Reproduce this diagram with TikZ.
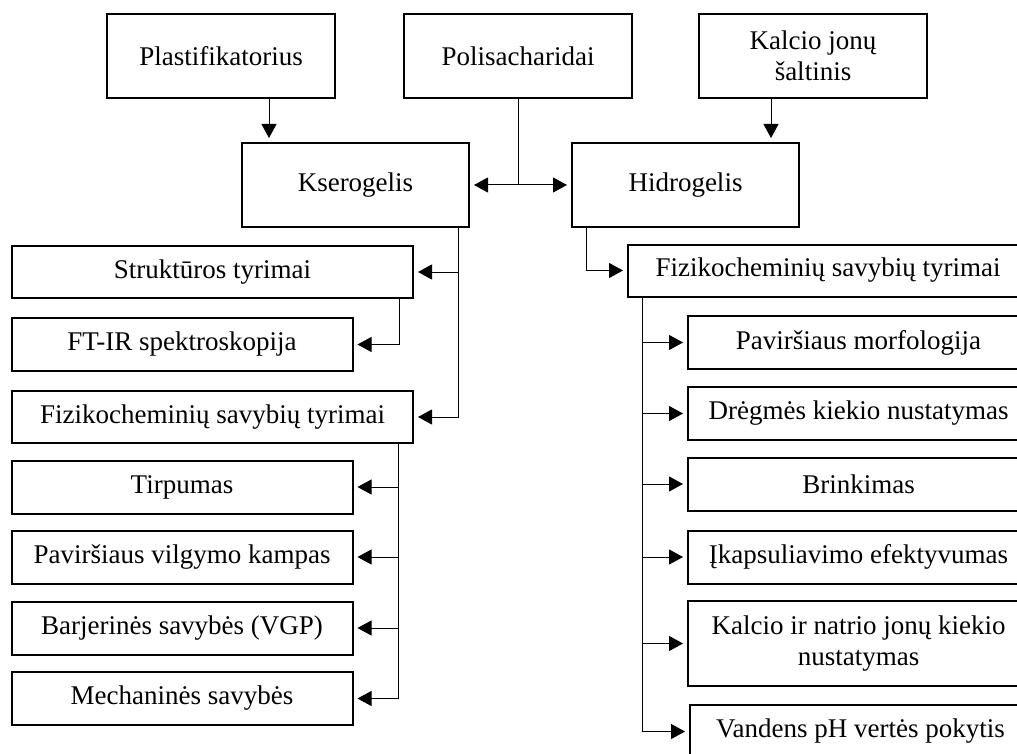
\documentclass[tikz,border=0pt]{standalone}
\usepackage{fontspec}
\setmainfont{Liberation Serif}
\usetikzlibrary{arrows.meta}
\begin{document}
\begin{tikzpicture}[x=1pt,y=-1pt,
  box/.style={draw, line width=2pt, inner sep=0pt, align=center, font=\fontsize{27}{31.5}\selectfont},
  wbox/.style={box, minimum width=228pt, minimum height=84pt},
  lbox/.style={box, minimum width=401pt, minimum height=52pt},
  sbox/.style={box, minimum width=341pt, minimum height=53pt},
  ln/.style={line width=1pt},
  arr/.style={line width=1pt, -{Triangle[length=14pt,width=15pt]}, shorten >=4pt}]
\useasboundingbox (0,0) rectangle (1017,754);
\clip (0,0) rectangle (1017,754);
% top row
\node[wbox] (plast) at (221,56) {Plastifikatorius};
\node[wbox] (polis) at (518,56) {Polisacharidai};
\node[wbox] (kalc) at (813,56) {Kalcio jonų\\šaltinis};
% second row
\node[box, minimum width=227pt, minimum height=84pt] (kser) at (355.5,185) {Kserogelis};
\node[box, minimum width=227pt, minimum height=84pt] (hidr) at (685.5,185) {Hidrogelis};
% left column
\node[lbox] (strukt) at (212.5,272) {Struktūros tyrimai};
\node[sbox] (ftir) at (182,344.5) {FT-IR spektroskopija};
\node[lbox] (fizL) at (212.5,417) {Fizikocheminių savybių tyrimai};
\node[sbox] (tirp) at (182,487) {Tirpumas};
\node[sbox] (pavv) at (182,557) {Paviršiaus vilgymo kampas};
\node[sbox] (barj) at (182,628) {Barjerinės savybės (VGP)};
\node[sbox] (mech) at (182,698.5) {Mechaninės savybės};
% right column
\node[lbox, minimum width=400pt] (fizR) at (828,270.5) {Fizikocheminių savybių tyrimai};
\node[sbox] (pavm) at (858.5,342.5) {Paviršiaus morfologija};
\node[sbox] (dreg) at (858.5,413.5) {Drėgmės kiekio nustatymas};
\node[sbox] (brink) at (858.5,484) {Brinkimas};
\node[sbox] (ikap) at (858.5,557) {Įkapsuliavimo efektyvumas};
\node[sbox, minimum height=85pt] (kaln) at (858.5,643.5) {Kalcio ir natrio jonų kiekio\\nustatymas};
\node[sbox] (vand) at (860.5,731.5) {Vandens pH vertės pokytis};
% top connectors
\draw[arr] ([xshift=48pt]plast.south) -- ([xshift=48pt]plast.south |- kser.north);
\draw[arr] ([xshift=-42pt]kalc.south) -- ([xshift=-42pt]kalc.south |- hidr.north);
\draw[ln] (polis.south) -- (polis.south |- kser.east) coordinate (pj);
\draw[arr] (pj) -- (kser.east);
\draw[arr] (pj) -- (hidr.west);
% kserogelis branch
\coordinate (ks) at ([xshift=102.5pt]kser.south);
\draw[arr] (ks) |- (fizL.east);
\draw[arr] (ks |- strukt.east) -- (strukt.east);
\draw[arr] ([xshift=186.5pt]strukt.south) |- (ftir.east);
\coordinate (fl) at ([xshift=185.5pt]fizL.south);
\draw[arr] (fl) |- (mech.east);
\draw[arr] (fl |- tirp.east) -- (tirp.east);
\draw[arr] (fl |- pavv.east) -- (pavv.east);
\draw[arr] (fl |- barj.east) -- (barj.east);
% hidrogelis branch
\draw[arr] ([xshift=-99.5pt]hidr.south) |- (fizR.west);
\coordinate (fr) at ([xshift=-186pt]fizR.south);
\draw[arr] (fr) |- (vand.west);
\draw[arr] (fr |- pavm.west) -- (pavm.west);
\draw[arr] (fr |- dreg.west) -- (dreg.west);
\draw[arr] (fr |- brink.west) -- (brink.west);
\draw[arr] (fr |- ikap.west) -- (ikap.west);
\draw[arr] (fr |- kaln.west) -- (kaln.west);
\end{tikzpicture}
\end{document}
